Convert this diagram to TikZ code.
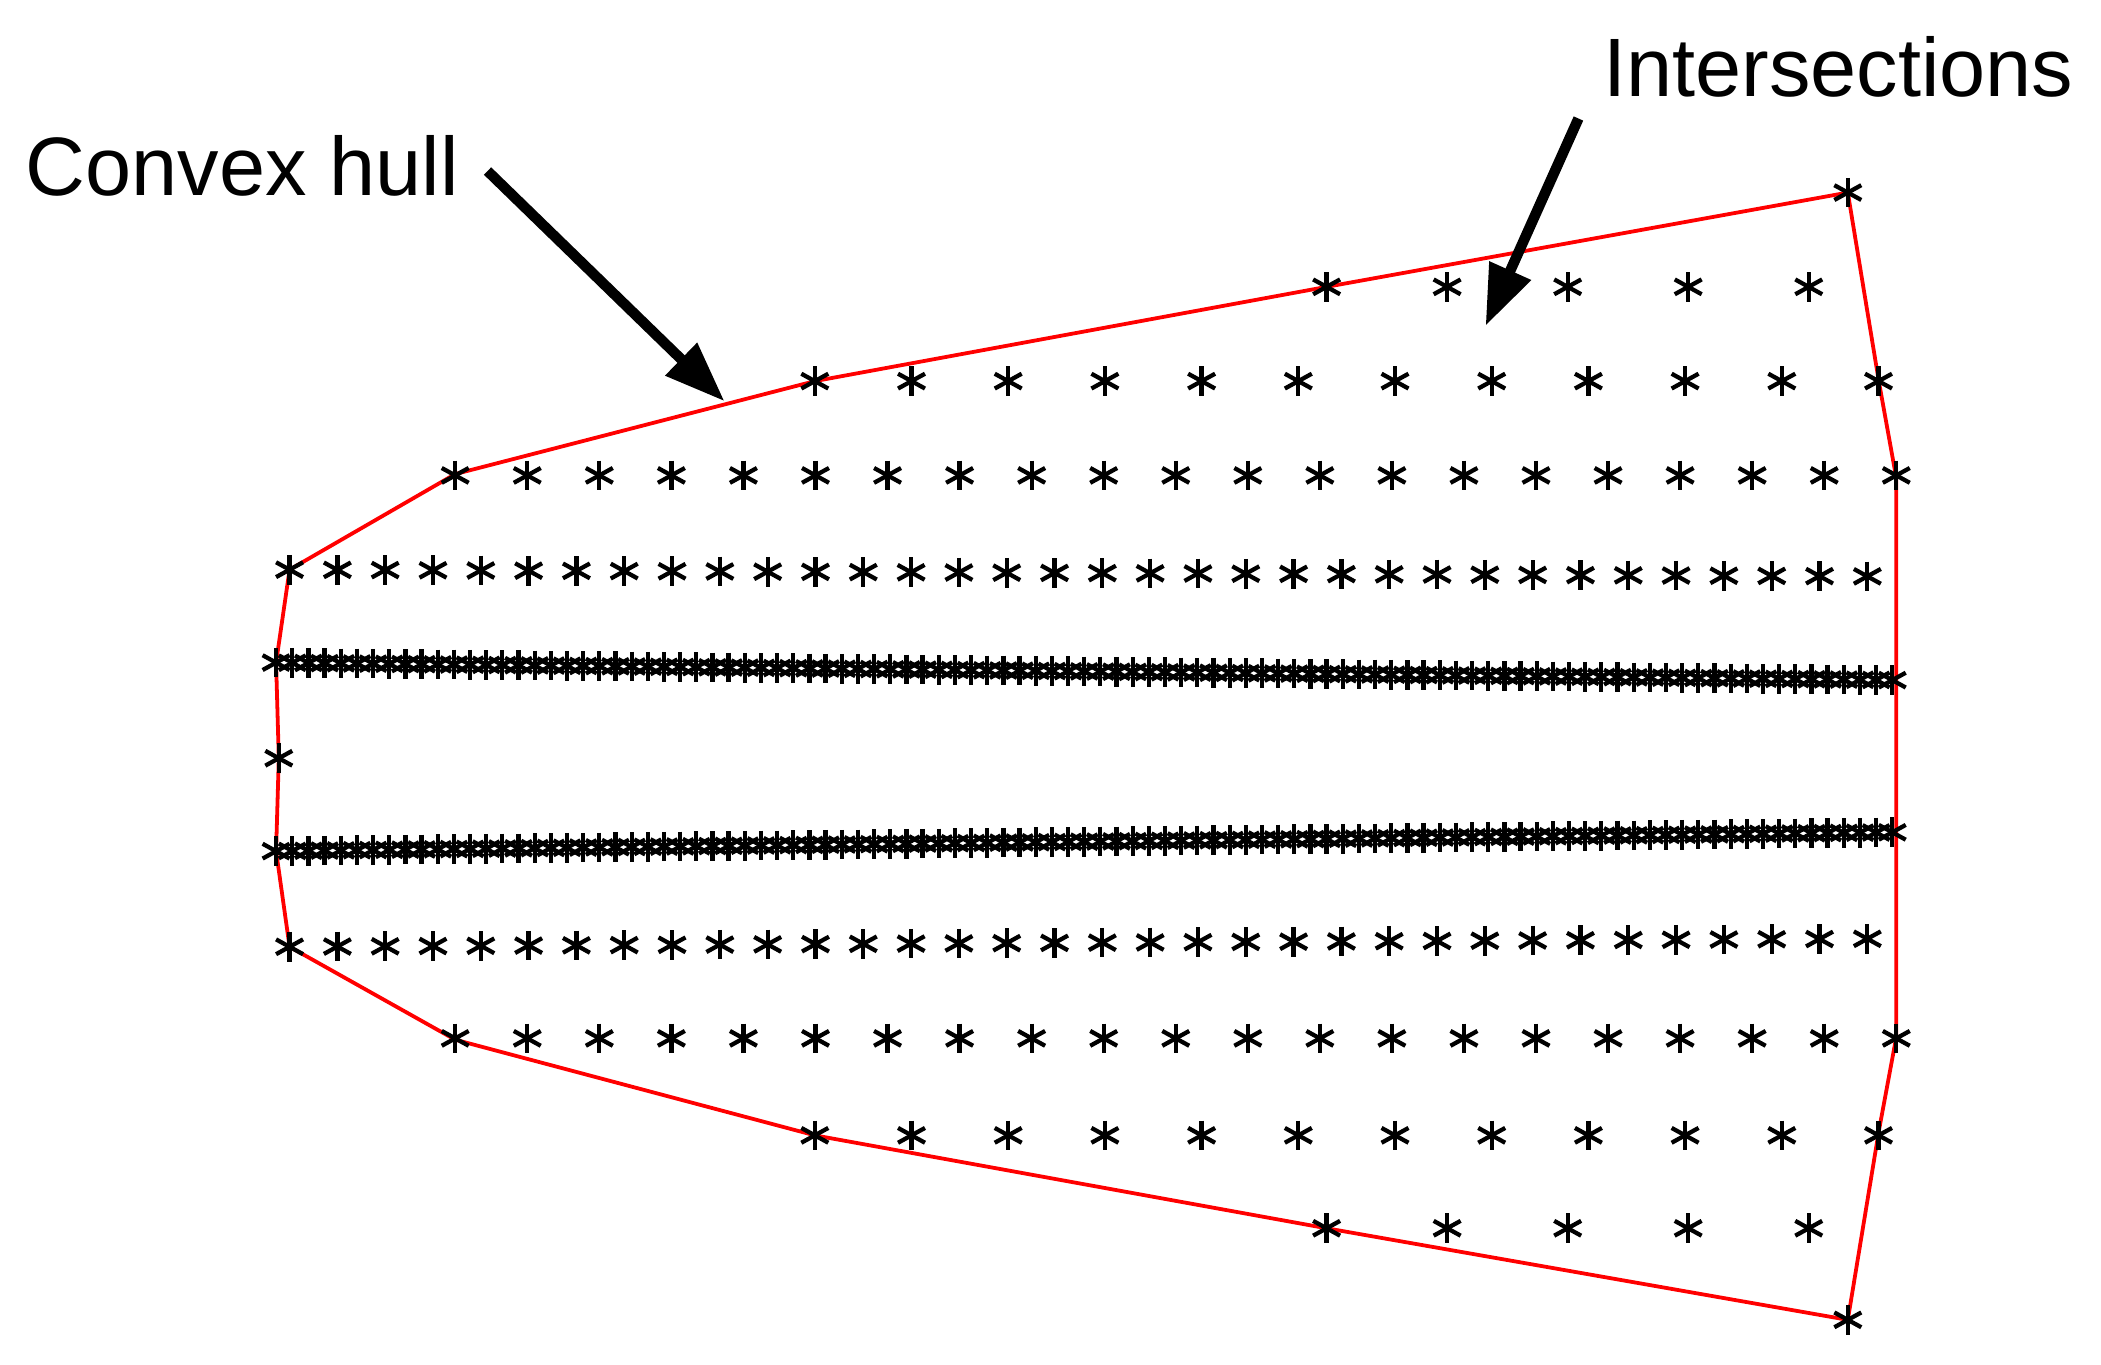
\documentclass[tikz,border=0pt]{standalone}
\usepackage{fontspec}
\setmainfont{Liberation Sans}
\usetikzlibrary{arrows.meta}
\tikzset{
	ast/.pic={
		\draw[line width=0.9pt] (0,-11) -- (0,11);
		\draw[line width=0.9pt] (-10,-5.5) -- (10,5.5);
		\draw[line width=0.9pt] (-10,5.5) -- (10,-5.5);
	},
	hull/.style={red, line width=0.8pt},
	pointer/.style={-{Triangle[length=0.45cm,width=0.32cm]}, line width=2.2pt, shorten >=0pt},
	label/.style={font=\fontsize{17.5}{21}\selectfont},
}
\begin{document}
\begin{tikzpicture}[x=0.01cm,y=-0.01cm]
	\useasboundingbox (0,0) rectangle (1560,1013);

	% hull vertices
	\coordinate (h1) at (1372,143);
	\coordinate (h2) at (1395,283);
	\coordinate (h3) at (1408,355);
	\coordinate (h4) at (1408,770);
	\coordinate (h5) at (1395,840);
	\coordinate (h6) at (1372,980);
	\coordinate (h7) at (985,912);
	\coordinate (h8) at (605,843);
	\coordinate (h9) at (338,772);
	\coordinate (h10) at (215,703);
	\coordinate (h11) at (205,632);
	\coordinate (h12) at (207,563);
	\coordinate (h13) at (205,492);
	\coordinate (h14) at (215,423);
	\coordinate (h15) at (338,352);
	\coordinate (h16) at (605,283);
	\coordinate (h17) at (985,213);
	\draw[hull] (h1) -- (h2) -- (h3) -- (h4) -- (h5) -- (h6) -- (h7) -- (h8) -- (h9)
		-- (h10) -- (h11) -- (h12) -- (h13) -- (h14) -- (h15) -- (h16) -- (h17) -- cycle;

	% intersections
	\pic at (1372,143) {ast};
	\pic at (1372,980) {ast};
	\pic at (207,563) {ast};
	\foreach \i in {0,...,4} {
		\pic at (985+\i*89.5,213) {ast};
		\pic at (985+\i*89.5,912) {ast};
	}
	\foreach \i in {0,...,11} {
		\pic at (605+\i*71.8,283) {ast};
		\pic at (605+\i*71.8,843) {ast};
	}
	\foreach \i in {0,...,20} {
		\pic at (338+\i*53.5,353) {ast};
		\pic at (338+\i*53.5,771) {ast};
	}
	\foreach \i in {0,...,33} {
		\pic at (215+\i*35.5,423+\i*0.15) {ast};
		\pic at (215+\i*35.5,703-\i*0.18) {ast};
	}
	\foreach \i in {0,...,100} {
		\pic at (205+\i*12,492+\i*0.13) {ast};
		\pic at (205+\i*12,632-\i*0.14) {ast};
	}

	% labels
	\node[label] (hl) at (180,123) {Convex hull};
	\node[label] (il) at (1365,50) {Intersections};
	\coordinate (ht) at (538,298);
	\coordinate (it) at (1103,242);
	\draw[pointer] (362,127) -- (ht);
	\draw[pointer] (1172,88) -- (it);
\end{tikzpicture}
\end{document}
